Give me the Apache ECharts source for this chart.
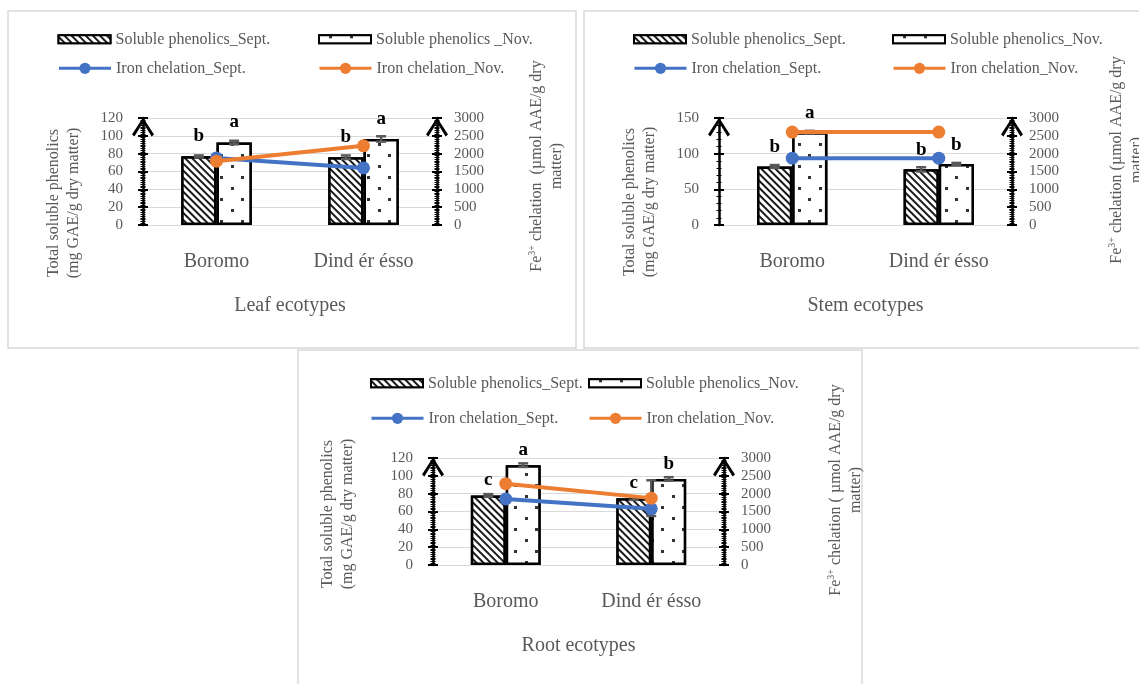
<!DOCTYPE html>
<html><head><meta charset="utf-8">
<script src="https://cdn.jsdelivr.net/npm/echarts@6/dist/echarts.min.js"></script>
<style>html,body{margin:0;padding:0;background:#fff}#c{width:1139px;height:684px}</style>
</head><body><div id="c"></div>
<script>
// ---------------- data ----------------
const categories = ['Boromo', 'Dind ér ésso'];

const leafPhenolicsSept = [77, 76];
const leafPhenolicsSeptErr = [1, 2];
const leafPhenolicsNov = [92.5, 96.5];
const leafPhenolicsNovErr = [2, 3];
const leafIronSept = [1880, 1600];
const leafIronSeptErr = [40, 40];
const leafIronNov = [1790, 2220];
const leafIronNovErr = [40, 40];
const leafLettersSept = ['b', 'b'];
const leafLettersNov = ['a', 'a'];

const stemPhenolicsSept = [82, 78];
const stemPhenolicsSeptErr = [2, 3];
const stemPhenolicsNov = [130, 85.5];
const stemPhenolicsNovErr = [2, 1.5];
const stemIronSept = [1875, 1875];
const stemIronSeptErr = [40, 40];
const stemIronNov = [2605, 2605];
const stemIronNovErr = [40, 40];
const stemLettersSept = ['b', 'b'];
const stemLettersNov = ['a', 'b'];

const rootPhenolicsSept = [78, 75];
const rootPhenolicsSeptErr = [1.5, 2];
const rootPhenolicsNov = [112, 96.5];
const rootPhenolicsNovErr = [2, 2];
const rootIronSept = [1850, 1575];
const rootIronSeptErr = [40, 40];
const rootIronNov = [2280, 1875];
const rootIronNovErr = [40, 500];
const rootLettersSept = ['c', 'c'];
const rootLettersNov = ['a', 'b'];

const phenolicsAxisLeaf = [0, 120, 20];
const phenolicsAxisStem = [0, 150, 50];
const phenolicsAxisRoot = [0, 120, 20];
const ironAxis = [0, 3000, 500];

const nameSept = 'Soluble phenolics_Sept.';
const nameNovLeaf = 'Soluble phenolics _Nov.';
const nameNov = 'Soluble phenolics_Nov.';
const nameIronSept = 'Iron chelation_Sept.';
const nameIronNov = 'Iron chelation_Nov.';

// ---------------- styling / layout ----------------
const FONT = 'Liberation Serif';
const GREY = '#595959';
const LIGHT = '#d9d9d9';
const BLUE = '#4472C4';
const ORANGE = '#ED7D31';
const ARROW = 'path://M11,0 L22,17 L19.6,18.8 L11,5 L2.4,18.8 L0,17 Z';

const panels = [
  { key: 'Leaf', title: 'Leaf ecotypes', grid: { left: 143, top: 118, width: 294, height: 107 },
    axis: phenolicsAxisLeaf, minorSplit: 10,
    sept: leafPhenolicsSept, septErr: leafPhenolicsSeptErr, nov: leafPhenolicsNov, novErr: leafPhenolicsNovErr,
    ironSept: leafIronSept, ironSeptErr: leafIronSeptErr, ironNov: leafIronNov, ironNovErr: leafIronNovErr,
    lettersSept: leafLettersSept, lettersNov: leafLettersNov, novName: nameNovLeaf, labelOff: 20,
    leftTitle: [64, 203], rightTitle: [547, 166, 'Fe{s|3+} chelation  (µmol AAE/g dry\nmatter)'],
    legend: [57.5, 318, 39.3, 68.3], border: [8, 11, 568, 337] },
  { key: 'Stem', title: 'Stem ecotypes', grid: { left: 719, top: 118, width: 293, height: 107 },
    axis: phenolicsAxisStem, minorSplit: 5,
    sept: stemPhenolicsSept, septErr: stemPhenolicsSeptErr, nov: stemPhenolicsNov, novErr: stemPhenolicsNovErr,
    ironSept: stemIronSept, ironSeptErr: stemIronSeptErr, ironNov: stemIronNov, ironNovErr: stemIronNovErr,
    lettersSept: stemLettersSept, lettersNov: stemLettersNov, novName: nameNov, labelOff: 19,
    leftTitle: [640, 202], rightTitle: [1127, 160, 'Fe{s|3+} chelation (µmol AAE/g dry\nmatter)'],
    legend: [633, 892, 39.3, 68.3], border: [584, 11, 560, 337] },
  { key: 'Root', title: 'Root ecotypes', grid: { left: 433, top: 458, width: 291, height: 107 },
    axis: phenolicsAxisRoot, minorSplit: 10,
    sept: rootPhenolicsSept, septErr: rootPhenolicsSeptErr, nov: rootPhenolicsNov, novErr: rootPhenolicsNovErr,
    ironSept: rootIronSept, ironSeptErr: rootIronSeptErr, ironNov: rootIronNov, ironNovErr: rootIronNovErr,
    lettersSept: rootLettersSept, lettersNov: rootLettersNov, novName: nameNov, labelOff: 15,
    leftTitle: [338, 514], rightTitle: [846, 490, 'Fe{s|3+} chelation ( µmol AAE/g dry\nmatter)'],
    legend: [370, 588, 383.3, 418.3], border: [298, 350, 564, 340] }
];

const hatchDecal = { symbol: 'rect', symbolSize: 1, color: '#1a1a1a', backgroundColor: '#fff',
  dashArrayX: [1, 0], dashArrayY: [2, 3], rotation: Math.PI / 4 };
const dotDecal = { symbol: 'rect', symbolSize: 1, color: '#333333', backgroundColor: '#fff',
  dashArrayX: [[3, 18], [0, 10, 3, 8]], dashArrayY: [3, 8], rotation: 0 };

function sname(p, n) { return p.key + '|' + n; }

function yAxisPair(g, pos, min, max, interval, minorSplit, withGrid, margin) {
  const main = {
    gridIndex: g, type: 'value', position: pos, min: min, max: max, interval: interval,
    axisLine: { show: true, onZero: false, lineStyle: { color: '#000', width: 2.5 },
      symbol: ['none', ARROW], symbolSize: [22, 19], symbolOffset: [0, -9] },
    axisTick: { show: true, length: 5, lineStyle: { color: '#000', width: 2 } },
    minorTick: { show: true, splitNumber: minorSplit, length: 2.5, lineStyle: { color: '#000', width: 1 } },
    axisLabel: { margin: margin, color: GREY, fontSize: 15, fontFamily: FONT,
      formatter: function (v) { return String(v); } },
    splitLine: { show: withGrid, lineStyle: { color: LIGHT, width: 1 } },
    minorSplitLine: { show: false }
  };
  const inner = {
    gridIndex: g, type: 'value', position: pos, min: min, max: max, interval: interval,
    axisLine: { show: false },
    axisTick: { show: true, inside: true, length: 5, lineStyle: { color: '#000', width: 2 } },
    minorTick: { show: true, splitNumber: minorSplit, length: 2.5, lineStyle: { color: '#000', width: 1 } },
    axisLabel: { show: false }, splitLine: { show: false }
  };
  return [main, inner];
}

function barErrRender(values, errs, letters, sign, labelOff) {
  return function (params, api) {
    const i = params.dataIndex;
    const v = values[i], e = errs[i];
    const band = api.coord([1, v])[0] - api.coord([0, v])[0];
    const bw = band * 0.24;
    const c = api.coord([i, v]);
    const x = c[0] + sign * bw / 2;
    const yHi = api.coord([i, v + e])[1];
    const yLo = api.coord([i, v - e])[1];
    const st = { stroke: GREY, lineWidth: 2.5 };
    const children = [
      { type: 'line', shape: { x1: x, y1: yHi, x2: x, y2: yLo }, style: st },
      { type: 'line', shape: { x1: x - 5, y1: yHi, x2: x + 5, y2: yHi }, style: st },
      { type: 'line', shape: { x1: x - 5, y1: yLo, x2: x + 5, y2: yLo }, style: st }
    ];
    if (letters) {
      children.push({ type: 'text', style: { text: letters[i], x: x, y: c[1] - labelOff,
        align: 'center', verticalAlign: 'middle', font: 'bold 19px "' + FONT + '"', fill: '#000' } });
    }
    return { type: 'group', children: children };
  };
}

const grids = [], xAxes = [], yAxes = [], series = [], legends = [], graphics = [];

panels.forEach(function (p, g) {
  grids.push(Object.assign({ containLabel: false }, p.grid));
  xAxes.push({
    gridIndex: g, type: 'category', data: categories,
    axisLine: { show: true, lineStyle: { color: LIGHT, width: 1 } },
    axisTick: { show: false },
    axisLabel: { margin: 27, color: GREY, fontSize: 20, fontFamily: FONT },
    name: p.title, nameLocation: 'middle', nameGap: 71,
    nameTextStyle: { color: GREY, fontSize: 20, fontFamily: FONT }
  });
  yAxes.push.apply(yAxes, yAxisPair(g, 'left', p.axis[0], p.axis[1], p.axis[2], p.minorSplit, true, 20));
  yAxes.push.apply(yAxes, yAxisPair(g, 'right', ironAxis[0], ironAxis[1], ironAxis[2], 10, false, 17));
  const yl = g * 4, yr = g * 4 + 2;

  series.push({ type: 'bar', name: sname(p, nameSept), xAxisIndex: g, yAxisIndex: yl, data: p.sept,
    barWidth: '24%', barGap: '0%', z: 2,
    itemStyle: { color: '#fff', borderColor: '#000', borderWidth: 2.5, decal: hatchDecal } });
  series.push({ type: 'bar', name: sname(p, p.novName), xAxisIndex: g, yAxisIndex: yl, data: p.nov,
    barWidth: '24%', barGap: '0%', z: 2,
    itemStyle: { color: '#fff', borderColor: '#000', borderWidth: 2.5, decal: dotDecal } });
  series.push({ type: 'custom', xAxisIndex: g, yAxisIndex: yl, z: 3, silent: true,
    data: p.sept.map(function (v, i) { return [i, v]; }), encode: { x: 0, y: 1 },
    renderItem: barErrRender(p.sept, p.septErr, p.lettersSept, -1, p.labelOff) });
  series.push({ type: 'custom', xAxisIndex: g, yAxisIndex: yl, z: 3, silent: true,
    data: p.nov.map(function (v, i) { return [i, v]; }), encode: { x: 0, y: 1 },
    renderItem: barErrRender(p.nov, p.novErr, p.lettersNov, 1, p.labelOff) });
  series.push({ type: 'custom', xAxisIndex: g, yAxisIndex: yr, z: 4, silent: true,
    data: p.ironSept.map(function (v, i) { return [i, v]; }), encode: { x: 0, y: 1 },
    renderItem: barErrRender(p.ironSept, p.ironSeptErr, null, 0, 0) });
  series.push({ type: 'custom', xAxisIndex: g, yAxisIndex: yr, z: 4, silent: true,
    data: p.ironNov.map(function (v, i) { return [i, v]; }), encode: { x: 0, y: 1 },
    renderItem: barErrRender(p.ironNov, p.ironNovErr, null, 0, 0) });
  series.push({ type: 'line', name: sname(p, nameIronSept), xAxisIndex: g, yAxisIndex: yr, data: p.ironSept,
    symbol: 'circle', symbolSize: 13, z: 5, lineStyle: { color: BLUE, width: 4 }, itemStyle: { color: BLUE } });
  series.push({ type: 'line', name: sname(p, nameIronNov), xAxisIndex: g, yAxisIndex: yr, data: p.ironNov,
    symbol: 'circle', symbolSize: 13, z: 6, lineStyle: { color: ORANGE, width: 4 }, itemStyle: { color: ORANGE } });

  const L = p.legend;
  const base = { padding: 0, itemWidth: 52, selectedMode: true,
    textStyle: { color: GREY, fontSize: 16, fontFamily: FONT },
    formatter: function (n) { return n.split('|')[1]; } };
  legends.push(Object.assign({}, base, { left: L[0], top: L[2] - 8, data: [sname(p, nameSept)], icon: 'rect', itemHeight: 8 }));
  legends.push(Object.assign({}, base, { left: L[1], top: L[2] - 8, data: [sname(p, p.novName)], icon: 'rect', itemHeight: 8 }));
  legends.push(Object.assign({}, base, { left: L[0], top: L[3] - 8, data: [sname(p, nameIronSept)], itemHeight: 14, lineStyle: { width: 3 } }));
  legends.push(Object.assign({}, base, { left: L[1], top: L[3] - 8, data: [sname(p, nameIronNov)], itemHeight: 14, lineStyle: { width: 3 } }));

  graphics.push({ type: 'rect', silent: true, z: -10,
    shape: { x: p.border[0], y: p.border[1], width: p.border[2], height: p.border[3] },
    style: { fill: 'none', stroke: LIGHT, lineWidth: 1.5 } });
  graphics.push({ type: 'text', silent: true, x: p.leftTitle[0], y: p.leftTitle[1], rotation: Math.PI / 2,
    style: { text: 'Total soluble phenolics\n(mg GAE/g dry matter)', fill: GREY, fontSize: 16, fontFamily: FONT,
      align: 'center', verticalAlign: 'middle', lineHeight: 20 } });
  graphics.push({ type: 'text', silent: true, x: p.rightTitle[0], y: p.rightTitle[1], rotation: Math.PI / 2,
    style: { text: p.rightTitle[2], fill: GREY, fontSize: 16, fontFamily: FONT,
      align: 'center', verticalAlign: 'middle', lineHeight: 20,
      rich: { s: { fontSize: 10, fontFamily: FONT, fill: GREY, verticalAlign: 'top', lineHeight: 20 } } } });
});

const chart = echarts.init(document.getElementById('c'), null, { renderer: 'canvas' });
chart.setOption({
  animation: false,
  backgroundColor: '#fff',
  textStyle: { fontFamily: FONT },
  grid: grids, xAxis: xAxes, yAxis: yAxes, series: series, legend: legends,
  graphic: { elements: graphics }
});
</script></body></html>
